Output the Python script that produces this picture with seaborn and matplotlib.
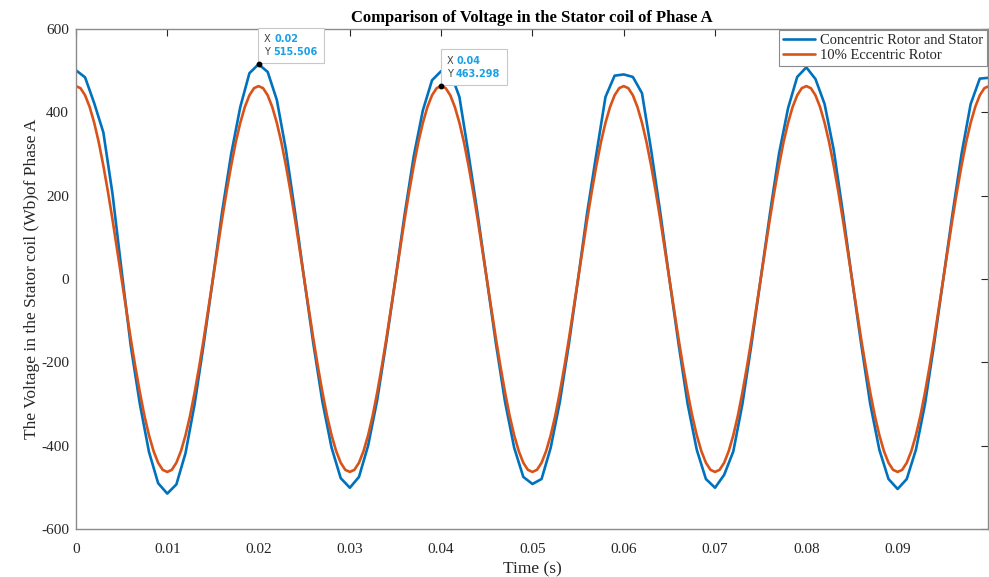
import numpy as np
import pandas as pd
import matplotlib
matplotlib.use("Agg")
import matplotlib.pyplot as plt
import seaborn as sns
from matplotlib.offsetbox import TextArea, HPacker, VPacker, AnnotationBbox

# ---- data -----------------------------------------------------------------
# Stator coil voltage, concentric rotor (sampled every 1 ms, 0 .. 0.1 s)
concentric_t = [round(i * 0.001, 4) for i in range(101)]
concentric_v = [
    501, 484, 422, 352, 205, 20, -160, -300, -415, -490,
    -515, -493, -418, -300, -155, 0, 160, 300, 413, 494,
    515.506, 497, 430, 310, 160, 0, -155, -295, -405, -478,
    -501, -475, -400, -290, -150, 0, 155, 295, 405, 477,
    499, 497, 437, 300, 155, 0, -155, -295, -405, -475,
    -492, -480, -405, -295, -155, 0, 160, 300, 437, 488,
    491, 485, 446, 310, 160, 0, -155, -300, -410, -480,
    -501, -470, -414, -300, -155, 0, 155, 300, 410, 485,
    508, 480, 420, 310, 160, 0, -155, -300, -410, -480,
    -504, -480, -410, -300, -155, 0, 155, 300, 420, 481,
    483,
]

# Stator coil voltage, 10% eccentric rotor (sampled every 0.5 ms)
eccentric_t = [round(i * 0.0005, 5) for i in range(201)]
eccentric_v = [
    463, 458, 441, 413, 375, 328, 272, 210, 143, 72,
    0, -72, -143, -210, -272, -328, -375, -413, -441, -458,
    -463, -458, -441, -413, -375, -328, -272, -210, -143, -72,
    0, 72, 143, 210, 272, 328, 375, 413, 441, 458,
    463, 458, 441, 413, 375, 328, 272, 210, 143, 72,
    0, -72, -143, -210, -272, -328, -375, -413, -441, -458,
    -463, -458, -441, -413, -375, -328, -272, -210, -143, -72,
    0, 72, 143, 210, 272, 328, 375, 413, 441, 458,
    463.298, 458, 441, 413, 375, 328, 272, 210, 143, 72,
    0, -72, -143, -210, -272, -328, -375, -413, -441, -458,
    -463, -458, -441, -413, -375, -328, -272, -210, -143, -72,
    0, 72, 143, 210, 272, 328, 375, 413, 441, 458,
    463, 458, 441, 413, 375, 328, 272, 210, 143, 72,
    0, -72, -143, -210, -272, -328, -375, -413, -441, -458,
    -463, -458, -441, -413, -375, -328, -272, -210, -143, -72,
    0, 72, 143, 210, 272, 328, 375, 413, 441, 458,
    463, 458, 441, 413, 375, 328, 272, 210, 143, 72,
    0, -72, -143, -210, -272, -328, -375, -413, -441, -458,
    -463, -458, -441, -413, -375, -328, -272, -210, -143, -72,
    0, 72, 143, 210, 272, 328, 375, 413, 441, 458,
    463,
]

series_names = ["Concentric Rotor and Stator", "10% Eccentric Rotor"]
series_colors = ["#0072BD", "#D95319"]

x_ticks = [0, 0.01, 0.02, 0.03, 0.04, 0.05, 0.06, 0.07, 0.08, 0.09]
x_tick_labels = ["0", "0.01", "0.02", "0.03", "0.04", "0.05", "0.06", "0.07", "0.08", "0.09"]
y_ticks = [-600, -400, -200, 0, 200, 400, 600]

# data tips: (series index, time)
tips = [(0, 0.02), (1, 0.04)]

# ---- figure ---------------------------------------------------------------
sns.set_theme(style="white")
plt.rcParams["font.family"] = ["Liberation Serif", "DejaVu Serif"]
plt.rcParams["axes.unicode_minus"] = False

df = pd.concat([
    pd.DataFrame({"t": concentric_t, "v": concentric_v, "series": series_names[0]}),
    pd.DataFrame({"t": eccentric_t, "v": eccentric_v, "series": series_names[1]}),
], ignore_index=True)

fig = plt.figure(figsize=(9.89, 5.77), dpi=100)
ax = fig.add_axes([0.0768, 0.0832, 0.9222, 0.8665])

sns.lineplot(data=df, x="t", y="v", hue="series", hue_order=series_names,
             palette=series_colors, linewidth=1.9, ax=ax, estimator=None,
             sort=False)

ax.set_xlim(0, 0.0999)
ax.set_ylim(-600, 600)
ax.set_xticks(x_ticks)
ax.set_xticklabels(x_tick_labels)
ax.set_yticks(y_ticks)
ax.tick_params(axis="both", which="both", direction="in", length=5, width=0.8,
               colors="#262626", labelsize=11, top=True, right=True,
               labeltop=False, labelright=False)
ax.tick_params(axis="x", pad=10)
ax.tick_params(axis="y", pad=5)
for sp in ax.spines.values():
    sp.set_color("#8a8a8a")
    sp.set_linewidth(1.0)

ax.set_xlabel("Time (s)", fontsize=12.5, color="#262626", labelpad=4)
ax.set_ylabel("The Voltage in the Stator coil (Wb)of Phase A", fontsize=12.5,
              color="#262626", labelpad=1)
ax.set_title("Comparison of Voltage in the Stator coil of Phase A",
             fontsize=12, fontweight="bold", color="black", pad=5)

leg = ax.legend(loc="upper right", fontsize=10.5, frameon=True, fancybox=False,
                borderaxespad=0.05, handlelength=2.2, handletextpad=0.3,
                borderpad=0.3, labelspacing=0.08, framealpha=1)
leg.get_frame().set_edgecolor("#8a8a8a")
leg.get_frame().set_linewidth(0.8)
for line in leg.get_lines():
    line.set_linewidth(1.9)

# data tips, anchored with their lower-left corner on the picked point
series_data = [(concentric_t, concentric_v), (eccentric_t, eccentric_v)]
for idx, t_tip in tips:
    ts, vs = series_data[idx]
    j = int(np.argmin(np.abs(np.array(ts) - t_tip)))
    x_val, y_val = ts[j], vs[j]
    fp_lab = dict(family="DejaVu Sans", size=7, color="#404040")
    fp_val = dict(family="DejaVu Sans", size=7, color="#1AA0E6", weight="bold")
    row_x = HPacker(children=[TextArea("X", textprops=fp_lab),
                              TextArea(f"{x_val:g}", textprops=fp_val)],
                    pad=0, sep=2.5)
    row_y = HPacker(children=[TextArea("Y", textprops=fp_lab),
                              TextArea(f"{y_val:.3f}", textprops=fp_val)],
                    pad=0, sep=2.5)
    box = VPacker(children=[row_x, row_y], pad=0, sep=2.5, align="left")
    ab = AnnotationBbox(box, (x_val, y_val), xybox=(4, 5),
                        boxcoords="offset points", box_alignment=(0, 0),
                        frameon=True, pad=0.4,
                        bboxprops=dict(boxstyle="square,pad=0.4",
                                       facecolor="white", edgecolor="#c8c8c8",
                                       linewidth=0.8))
    ab.set_zorder(7)
    ax.add_artist(ab)
    ax.plot([x_val], [y_val], "o", color="black", markersize=3.2, zorder=8)

fig.savefig("out.png", dpi=100)
